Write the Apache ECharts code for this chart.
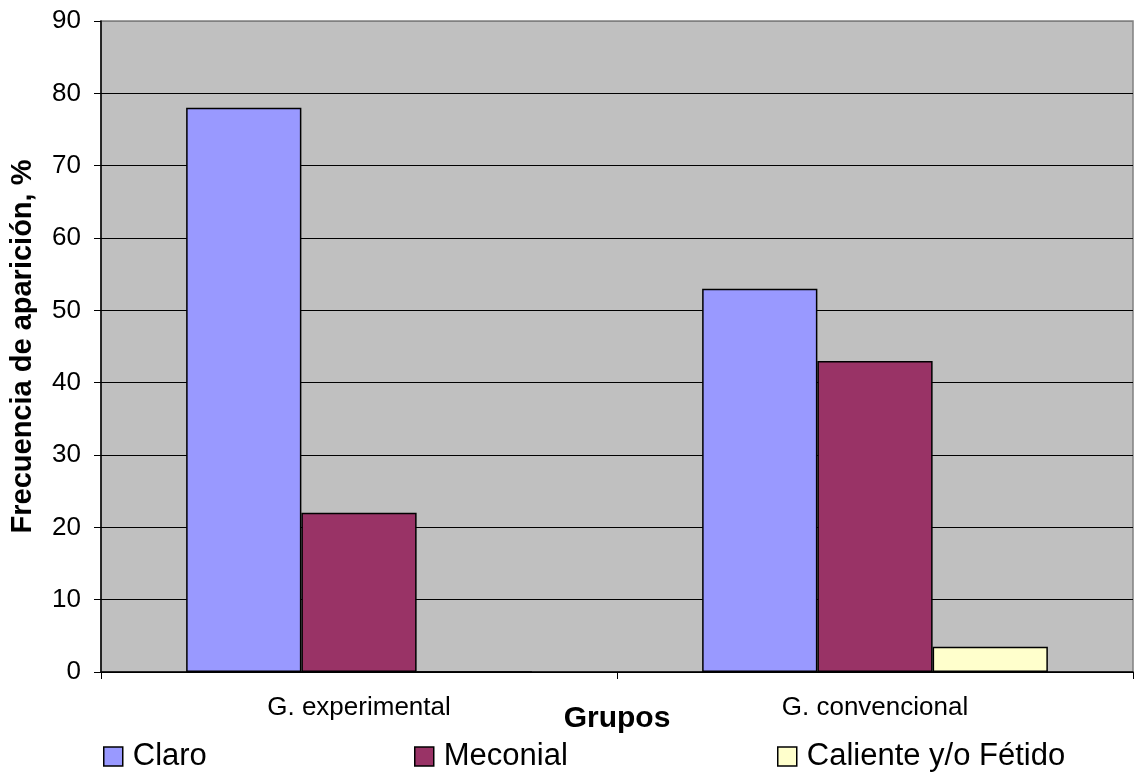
<!DOCTYPE html>
<html>
<head>
<meta charset="utf-8">
<script src="https://cdn.jsdelivr.net/npm/echarts@6/dist/echarts.min.js"></script>
<style>
html,body{margin:0;padding:0;background:#fff;}
#chart{width:1134px;height:773px;}
</style>
</head>
<body>
<div id="chart"></div>
<script>
const categories = ['G. experimental', 'G. convencional'];
const claro = [78, 53];
const meconial = [22, 43];
const caliente = [0, 3.5];
const seriesNames = ['Claro', 'Meconial', 'Caliente y/o Fétido'];
const seriesColors = ['#9999FF', '#993366', '#FFFFCC'];

const FONT = '"Liberation Sans", Arial, sans-serif';
const chart = echarts.init(document.getElementById('chart'), null, {renderer: 'canvas'});

function legendFor(name, left) {
  return {
    data: [name],
    left: left,
    top: 736,
    orient: 'horizontal',
    itemWidth: 19,
    itemHeight: 19,
    icon: 'rect',
    itemStyle: {borderColor: '#000', borderWidth: 1.5},
    textStyle: {fontFamily: FONT, fontSize: 31, color: '#000', padding: [0, 0, 0, 5]},
    selectedMode: false
  };
}

const splitColors = ['#000','#000','#000','#000','#000','#000','#000','#000','#000','#808080'];

const option = {
  animation: false,
  backgroundColor: '#ffffff',
  grid: {
    left: 101, right: 1, top: 21, bottom: 101,
    show: true, backgroundColor: '#C0C0C0', borderColor: '#808080', borderWidth: 1.5
  },
  legend: [
    legendFor(seriesNames[0], 98),
    legendFor(seriesNames[1], 409),
    legendFor(seriesNames[2], 772)
  ],
  xAxis: {
    type: 'category',
    data: categories,
    name: 'Grupos',
    nameLocation: 'middle',
    nameGap: 32,
    nameMoveOverlap: false,
    nameTextStyle: {fontFamily: FONT, fontSize: 30, fontWeight: 'bold', color: '#000'},
    axisLine: {lineStyle: {color: '#000', width: 1.5}},
    axisTick: {show: true, length: 7, alignWithLabel: false, lineStyle: {color: '#000'}},
    axisLabel: {fontFamily: FONT, fontSize: 26, color: '#000', margin: 23},
    splitLine: {show: false}
  },
  yAxis: {
    type: 'value',
    min: 0, max: 90, interval: 10,
    name: 'Frecuencia de aparición, %',
    nameLocation: 'middle',
    nameGap: 64,
    nameRotate: 90,
    nameTextStyle: {fontFamily: FONT, fontSize: 29, fontWeight: 'bold', color: '#000'},
    axisLine: {show: true, lineStyle: {color: '#000', width: 1.5}},
    axisTick: {show: true, length: 7, lineStyle: {color: '#000'}},
    axisLabel: {fontFamily: FONT, fontSize: 26, color: '#000', margin: 20},
    splitLine: {show: true, lineStyle: {color: splitColors, width: 1}}
  },
  series: [
    {name: seriesNames[0], type: 'bar', data: claro, barGap: 0, barCategoryGap: '33%',
     itemStyle: {color: seriesColors[0], borderColor: '#000', borderWidth: 1.5}},
    {name: seriesNames[1], type: 'bar', data: meconial, barGap: 0, barCategoryGap: '33%',
     itemStyle: {color: seriesColors[1], borderColor: '#000', borderWidth: 1.5}},
    {name: seriesNames[2], type: 'bar', data: caliente, barGap: 0, barCategoryGap: '33%',
     itemStyle: {color: seriesColors[2], borderColor: '#000', borderWidth: 1.5}}
  ]
};
chart.setOption(option);
</script>
</body>
</html>
